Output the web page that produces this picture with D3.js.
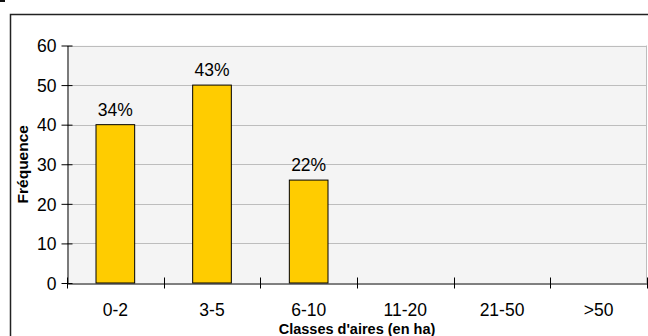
<!DOCTYPE html>
<html>
<head>
<meta charset="utf-8">
<script src="https://cdn.jsdelivr.net/npm/d3@7"></script>
<style>
  html, body { margin: 0; padding: 0; background: #fff; }
  svg { display: block; font-family: "Liberation Sans", Arial, sans-serif; }
</style>
</head>
<body>
<svg id="chart" width="648" height="336"></svg>
<script>
// Surface classes and observed frequencies
const categories = ["0-2", "3-5", "6-10", "11-20", "21-50", ">50"];
const frequencies = [40, 50, 26, 0, 0, 0];
const shareLabels = ["34%", "43%", "22%", "", "", ""];
const yTicks = [0, 10, 20, 30, 40, 50, 60];

const svg = d3.select("#chart");
const W = 648, H = 336;
const plot = { left: 67, right: 647, top: 45.5, bottom: 283 };
const FONT = "Liberation Sans, Arial, sans-serif";
const LABEL_SIZE = 17.5;

// Outer frame (top and left edges)
svg.append("rect").attr("x", 0).attr("y", 0).attr("width", 5).attr("height", 2).attr("fill", "#111");
svg.append("path")
  .attr("d", `M10.5,${H} V14.5 H${W}`)
  .attr("fill", "none").attr("stroke", "#222").attr("stroke-width", 1.5);

const x = d3.scaleBand().domain(categories).range([plot.left, plot.right]).paddingInner(0).paddingOuter(0);
const y = d3.scaleLinear().domain([0, 60]).range([plot.bottom, plot.top]);

// Plot background
svg.append("rect")
  .attr("x", plot.left).attr("y", plot.top)
  .attr("width", plot.right - plot.left).attr("height", plot.bottom - plot.top)
  .attr("fill", "#f4f4f4");

// Horizontal gridlines
svg.append("g").selectAll("line").data(yTicks.filter(d => d > 0)).join("line")
  .attr("x1", plot.left).attr("x2", plot.right)
  .attr("y1", d => Math.round(y(d)) + 0.5).attr("y2", d => Math.round(y(d)) + 0.5)
  .attr("stroke", "#bdbdbd").attr("stroke-width", 1);

// Right border of plot area
svg.append("line")
  .attr("x1", plot.right - 0.5).attr("x2", plot.right - 0.5)
  .attr("y1", plot.top).attr("y2", plot.bottom)
  .attr("stroke", "#bdbdbd");

// Bars
const barW = x.bandwidth() * 0.4;
svg.append("g").selectAll("rect").data(frequencies.map((v, i) => ({ c: categories[i], v })).filter(d => d.v > 0)).join("rect")
  .attr("x", d => x(d.c) + (x.bandwidth() - barW) / 2)
  .attr("y", d => y(d.v))
  .attr("width", barW)
  .attr("height", d => y(0) - y(d.v))
  .attr("fill", "#ffcc00")
  .attr("stroke", "#000").attr("stroke-width", 1);

// Value labels
svg.append("g").selectAll("text").data(categories.map((c, i) => ({ c, v: frequencies[i], t: shareLabels[i] })).filter(d => d.t)).join("text")
  .attr("x", d => x(d.c) + x.bandwidth() / 2)
  .attr("y", d => y(d.v) - 9)
  .attr("text-anchor", "middle")
  .attr("font-size", LABEL_SIZE)
  .attr("font-family", FONT)
  .attr("fill", "#000")
  .text(d => d.t);

// Y axis
const yAxis = d3.axisLeft(y).tickValues(yTicks).tickSize(0).tickPadding(11);
const gy = svg.append("g").attr("transform", `translate(${plot.left + 0.5},0)`).call(yAxis);
gy.select(".domain").attr("stroke", "#000");
gy.selectAll(".tick text")
  .attr("dy", null).attr("y", 6.3)
  .attr("font-size", LABEL_SIZE).attr("fill", "#000").attr("font-family", FONT);
gy.selectAll(".tick").append("line").attr("x1", -6).attr("x2", 5).attr("stroke", "#000");

// X axis
const xAxis = d3.axisBottom(x).tickSize(0).tickPadding(0);
const gx = svg.append("g").attr("transform", `translate(0,${plot.bottom + 0.5})`).call(xAxis);
gx.select(".domain").attr("stroke", "#000");
gx.selectAll(".tick text")
  .attr("dy", null).attr("y", 32)
  .attr("font-size", LABEL_SIZE).attr("fill", "#000").attr("font-family", FONT);
// Tick marks at category boundaries
const bounds = categories.map(c => x(c)).concat([plot.right]);
gx.append("g").selectAll("line").data(bounds).join("line")
  .attr("x1", d => Math.round(d) + 0.5).attr("x2", d => Math.round(d) + 0.5)
  .attr("y1", -6).attr("y2", 5)
  .attr("stroke", "#000");

// Axis titles
svg.append("text")
  .attr("x", (plot.left + plot.right) / 2)
  .attr("y", 333.5)
  .attr("text-anchor", "middle")
  .attr("font-size", 14.5).attr("font-weight", "bold").attr("font-family", FONT)
  .text("Classes d'aires (en ha)");

svg.append("text")
  .attr("transform", `translate(28,${(plot.top + plot.bottom) / 2}) rotate(-90)`)
  .attr("text-anchor", "middle")
  .attr("font-size", 15.5).attr("font-weight", "bold").attr("font-family", FONT)
  .text("Fréquence");
</script>
</body>
</html>
